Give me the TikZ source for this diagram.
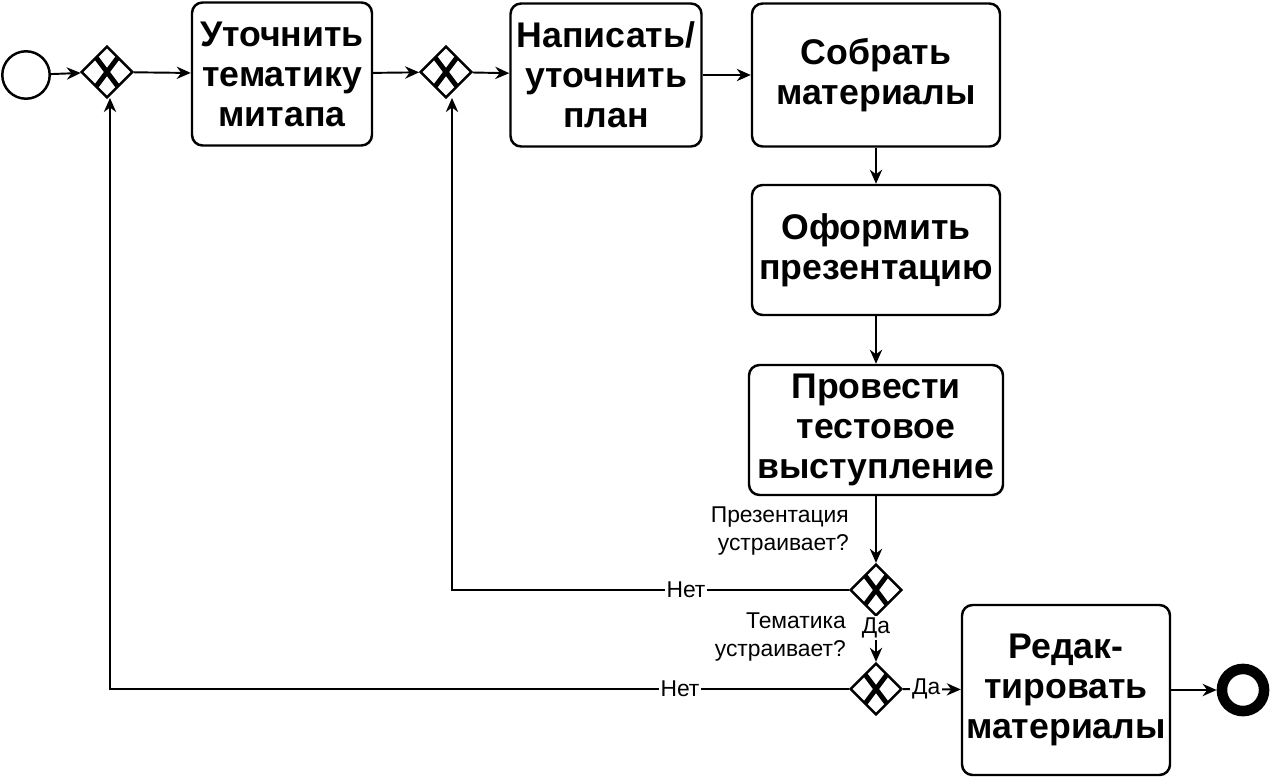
\documentclass[tikz,border=0pt]{standalone}
\usepackage{fontspec}
\setmainfont{Liberation Sans}
\usetikzlibrary{arrows.meta,shapes.geometric}
\tikzset{
  task/.style={draw,line width=1.4pt,rounded corners=6pt,align=center,font=\fontsize{20.3}{22.8}\selectfont\bfseries,inner sep=0pt},
  gate/.style={draw,line width=1.4pt,diamond,minimum size=29.5pt,inner sep=0pt},
  flow/.style={line width=1.1pt,-{Stealth[length=8pt,width=7pt]}},
  lbl/.style={font=\fontsize{13}{15}\selectfont,fill=white,inner sep=1pt}
}
\newcommand{\gx}[1]{\draw[line width=2.8pt] ([shift={(-6pt,-8pt)}]#1.center) -- ([shift={(6pt,8pt)}]#1.center)
  ([shift={(-6pt,8pt)}]#1.center) -- ([shift={(6pt,-8pt)}]#1.center);}
\begin{document}
\begin{tikzpicture}[x=0.02cm,y=-0.02cm]
	\useasboundingbox (0,0) rectangle (1274,777);
	% events
	\node[draw,line width=1.4pt,circle,minimum size=27pt] (start) at (26,75) {};
	\node[draw,line width=6pt,circle,minimum size=24pt] (stop) at (1243,690) {};
	% gateways
	\node[gate] (g1) at (107,72) {}; \gx{g1}
	\node[gate] (g2) at (446,72) {}; \gx{g2}
	\node[gate] (g3) at (876,590) {}; \gx{g3}
	\node[gate] (g4) at (876,689) {}; \gx{g4}
	% tasks
	\node[task,minimum width=180*0.02cm,minimum height=143*0.02cm] (topic) at (282,74) {Уточнить\\тематику\\митапа};
	\node[task,minimum width=191*0.02cm,minimum height=143*0.02cm] (plan) at (606,75) {Написать/\\уточнить\\план};
	\node[task,minimum width=248*0.02cm,minimum height=143*0.02cm] (collect) at (876,75) {Собрать\\материалы};
	\node[task,minimum width=248*0.02cm,minimum height=130*0.02cm] (slides) at (876,250) {Оформить\\презентацию};
	\node[task,minimum width=254*0.02cm,minimum height=130*0.02cm] (test) at (876,430) {Провести\\тестовое\\выступление};
	\node[task,minimum width=208*0.02cm,minimum height=170*0.02cm] (edit) at (1066,690) {Редак-\\тировать\\материалы};
	% flows
	\draw[flow] (start) -- (g1);
	\draw[flow] (g1) -- (topic);
	\draw[flow] (topic) -- (g2);
	\draw[flow] (g2) -- (plan);
	\draw[flow] (plan) -- (collect);
	\draw[flow] (collect) -- (slides);
	\draw[flow] (slides) -- (test);
	\draw[flow] (test) -- (g3);
	\draw[flow] (g3) -- node[lbl,pos=0.25]{Да} (g4);
	\draw[flow] (g3.west) -- (452,590) -- (452,98);
	\node[lbl] at (686,590) {Нет};
	\draw[flow] (g4.west) -- (110,689) -- (110,98);
	\node[lbl] at (680,689) {Нет};
	\draw[flow] (g4) -- node[lbl,pos=0.4]{Да} (edit);
	\draw[flow] (edit) -- (stop);
	% questions
	\node[font=\fontsize{13}{16}\selectfont,align=right,anchor=east] at (855,531) {Презентация\\устраивает?};
	\node[font=\fontsize{13}{16}\selectfont,align=right,anchor=east] at (852,637) {Тематика\\устраивает?};
\end{tikzpicture}
\end{document}
